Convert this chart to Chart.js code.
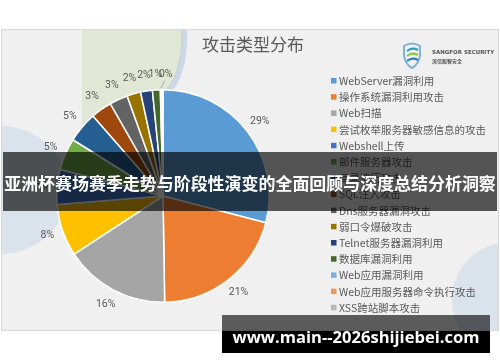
<!DOCTYPE html>
<html>
<head>
<meta charset="utf-8">
<script src="https://cdn.jsdelivr.net/npm/chart.js@4"></script>
<style>
  html, body { margin: 0; padding: 0; background: #fff; }
  canvas { display: block; }
</style>
</head>
<body>
<canvas id="pieChart" width="500" height="362"></canvas>
<script>
const labels = [
  'WebServer漏洞利用',
  '操作系统漏洞利用攻击',
  'Web扫描',
  '尝试枚举服务器敏感信息的攻击',
  'Webshell上传',
  '邮件服务器攻击',
  '目录遍历攻击',
  'SQL注入攻击',
  'Dns服务器漏洞攻击',
  '弱口令爆破攻击',
  'Telnet服务器漏洞利用',
  '数据库漏洞利用',
  'Web应用漏洞利用',
  'Web应用服务器命令执行攻击',
  'XSS跨站脚本攻击'
];
const values = [29.2, 20.8, 16.1, 8.0, 5.3, 4.9, 4.7, 3.2, 2.8, 2.1, 1.8, 1.2, 0.2, 0.1, 0.1];
const colors = [
  '#5B9BD5', '#ED7D31', '#A5A5A5', '#FFC000', '#4472C4', '#70AD47',
  '#255E91', '#9E480E', '#636363', '#997300', '#264478', '#43682B',
  '#7CAFDD', '#F1975A', '#B7B7B7'
];
const title = '攻击类型分布';
const banner = '亚洲杯赛场赛季走势与阶段性演变的全面回顾与深度总结分析洞察';
const site = 'www.main--2026shijiebei.com';

const cjk = '"Noto Sans CJK SC", "Noto Sans", sans-serif';
const textGray = '#595959';

function fitText(ctx, text, weight, family, width) {
  ctx.font = `${weight} 20px ${family}`;
  const size = 20 * width / ctx.measureText(text).width;
  ctx.font = `${weight} ${size}px ${family}`;
}

const background = {
  id: 'background',
  beforeDraw(chart) {
    const ctx = chart.ctx;
    ctx.save();
    ctx.fillStyle = '#fff';
    ctx.fillRect(0, 0, chart.width, chart.height);
    ctx.fillStyle = '#F0F0F0';
    ctx.fillRect(1, 29, 498, 302);
    ctx.beginPath();
    ctx.rect(1, 29, 498, 302);
    ctx.clip();
    // faint decoration shapes
    ctx.fillStyle = 'rgba(205, 222, 180, 0.45)';
    ctx.beginPath();
    ctx.moveTo(82, 29);
    ctx.lineTo(183, 29);
    ctx.quadraticCurveTo(186, 70, 160, 100);
    ctx.lineTo(82, 160);
    ctx.closePath();
    ctx.fill();
    ctx.strokeStyle = 'rgba(180, 200, 225, 0.6)';
    ctx.lineWidth = 6;
    ctx.beginPath();
    ctx.moveTo(184, 29);
    ctx.quadraticCurveTo(186, 70, 168, 92);
    ctx.stroke();
    ctx.fillStyle = 'rgba(190, 210, 230, 0.45)';
    ctx.beginPath();
    ctx.ellipse(0, 190, 68, 64, 0, 0, Math.PI * 2);
    ctx.fill();
    ctx.beginPath();
    ctx.arc(510, 300, 58, 0, Math.PI * 2);
    ctx.fill();
    ctx.restore();
    ctx.save();
    ctx.strokeStyle = '#D9D9D9';
    ctx.lineWidth = 1;
    ctx.strokeRect(1.5, 29.5, 497, 301);
    ctx.restore();
  }
};

const overlay = {
  id: 'overlay',
  afterDraw(chart) {
    const ctx = chart.ctx;
    const meta = chart.getDatasetMeta(0);
    const total = values.reduce((a, b) => a + b, 0);
    ctx.save();

    // percentage labels
    ctx.font = '10.5px Roboto, sans-serif';
    ctx.fillStyle = textGray;
    ctx.textAlign = 'center';
    ctx.textBaseline = 'middle';
    let tinyDone = false;
    meta.data.forEach((arc, i) => {
      const p = arc.getProps(['x', 'y', 'startAngle', 'endAngle', 'outerRadius'], true);
      const mid = (p.startAngle + p.endAngle) / 2;
      const pct = values[i] / total * 100;
      const r = p.outerRadius + 16;
      let lx = p.x + Math.cos(mid) * r;
      let ly = p.y + Math.sin(mid) * r;
      if (pct < 0.5) {
        if (tinyDone) return;
        tinyDone = true;
        lx += 5;
        ly += 1;
        ctx.strokeStyle = '#A6A6A6';
        ctx.lineWidth = 1;
        ctx.beginPath();
        ctx.moveTo(p.x + Math.cos(mid) * (p.outerRadius + 2), p.y + Math.sin(mid) * (p.outerRadius + 2));
        ctx.lineTo(lx - 1, ly + 6);
        ctx.stroke();
      }
      ctx.fillText(Math.round(pct) + '%', lx, ly);
    });

    // legend
    ctx.textAlign = 'left';
    ctx.font = `10.5px ${cjk}`;
    labels.forEach((name, i) => {
      const y = 81 + i * 16.2;
      ctx.fillStyle = colors[i];
      ctx.fillRect(331, y - 3, 5.5, 5.5);
      ctx.fillStyle = textGray;
      ctx.fillText(name, 339, y);
    });

    // title
    ctx.textAlign = 'center';
    ctx.font = `17px ${cjk}`;
    ctx.fillStyle = textGray;
    ctx.fillText(title, 253, 45);

    // logo
    ctx.lineWidth = 2;
    ctx.strokeStyle = '#7FB2DA';
    ctx.beginPath();
    ctx.moveTo(404, 46);
    ctx.quadraticCurveTo(412, 41, 420, 46);
    ctx.lineTo(420, 56);
    ctx.quadraticCurveTo(418, 65, 412, 68);
    ctx.quadraticCurveTo(406, 65, 404, 56);
    ctx.closePath();
    ctx.stroke();
    [['#2E9DAE', 50], ['#8CC63F', 55], ['#2F7FC1', 60]].forEach(([c, y]) => {
      ctx.strokeStyle = c;
      ctx.lineWidth = 2.2;
      ctx.beginPath();
      ctx.moveTo(407, y + 1);
      ctx.quadraticCurveTo(412, y - 3, 418, y);
      ctx.stroke();
    });
    ctx.textAlign = 'left';
    ctx.fillStyle = '#555';
    ctx.font = 'bold 5.5px "DejaVu Sans", sans-serif';
    ctx.fillText('SANGFOR SECURITY', 432, 53);
    ctx.font = `bold 5px ${cjk}`;
    ctx.fillText('深信服智安全', 432, 61);

    // banner
    ctx.fillStyle = 'rgba(0, 0, 0, 0.65)';
    ctx.fillRect(3, 152, 494, 59);
    ctx.fillStyle = '#fff';
    ctx.textAlign = 'center';
    fitText(ctx, banner, 'bold', cjk, 492);
    ctx.fillText(banner, 250, 184);

    // site watermark
    ctx.fillStyle = 'rgba(0, 0, 0, 0.62)';
    ctx.fillRect(222, 315, 268, 16);
    ctx.fillStyle = '#000';
    ctx.fillRect(222, 331, 268, 22);
    ctx.fillStyle = '#fff';
    fitText(ctx, site, 'bold', '"Open Sans", "DejaVu Sans", sans-serif', 247);
    ctx.fillText(site, 356, 338);

    ctx.restore();
  }
};

new Chart(document.getElementById('pieChart'), {
  type: 'pie',
  data: {
    labels: labels,
    datasets: [{
      data: values,
      backgroundColor: colors,
      borderColor: '#fff',
      borderWidth: 1.5
    }]
  },
  options: {
    responsive: false,
    animation: false,
    layout: { padding: { left: 56, top: 89, right: 230, bottom: 59 } },
    plugins: { legend: { display: false }, tooltip: { enabled: false } }
  },
  plugins: [background, overlay]
});
</script>
</body>
</html>
